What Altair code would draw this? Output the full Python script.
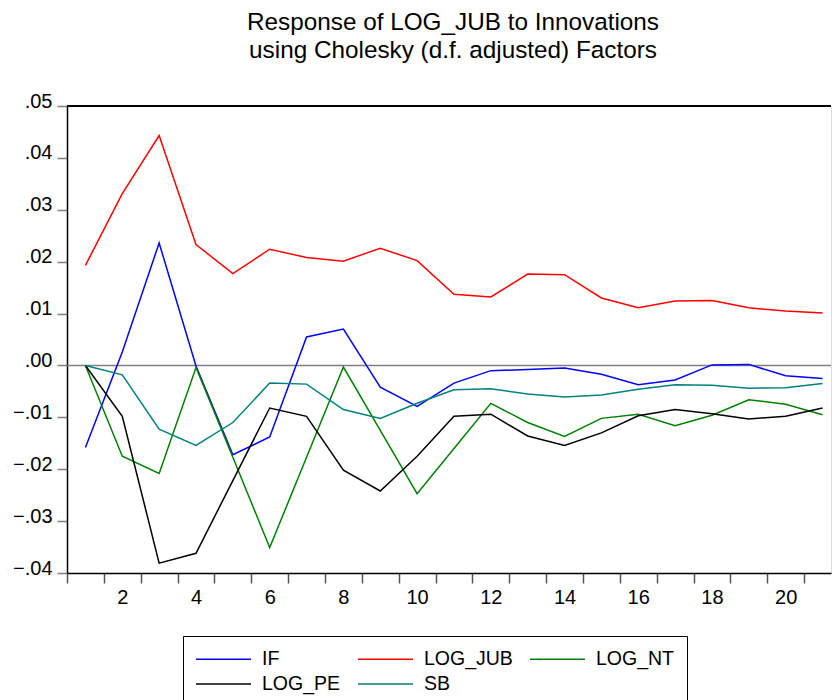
import altair as alt
import pandas as pd

periods = list(range(1, 22))

series_names = ["IF", "LOG_JUB", "LOG_NT", "LOG_PE", "SB"]
series_colors = ["#0000FF", "#FF0000", "#008000", "#000000", "#008080"]

IF = [-0.0158, 0.0026, 0.0236, -0.0001, -0.0172, -0.0138, 0.0055, 0.0070,
      -0.0042, -0.0079, -0.0034, -0.0010, -0.0008, -0.0005, -0.0017, -0.0037,
      -0.0028, 0.0001, 0.0002, -0.0020, -0.0025]
LOG_JUB = [0.0193, 0.0331, 0.0443, 0.0233, 0.0177, 0.0224, 0.0208, 0.0201,
           0.0226, 0.0202, 0.0137, 0.0132, 0.0176, 0.0175, 0.0130, 0.0111,
           0.0124, 0.0125, 0.0111, 0.0105, 0.0101]
LOG_NT = [0.0, -0.0175, -0.0208, -0.0004, -0.0177, -0.0351, -0.0177, -0.0003,
          -0.0125, -0.0247, -0.0160, -0.0073, -0.0110, -0.0137, -0.0102, -0.0094,
          -0.0116, -0.0096, -0.0066, -0.0075, -0.0095]
LOG_PE = [0.0, -0.0098, -0.0381, -0.0362, -0.0222, -0.0082, -0.0098, -0.0202,
          -0.0242, -0.0175, -0.0098, -0.0094, -0.0136, -0.0154, -0.0130, -0.0097,
          -0.0085, -0.0093, -0.0103, -0.0098, -0.0082]
SB = [0.0, -0.0018, -0.0123, -0.0154, -0.0110, -0.0034, -0.0036, -0.0085,
      -0.0102, -0.0073, -0.0047, -0.0045, -0.0055, -0.0061, -0.0057, -0.0046,
      -0.0037, -0.0038, -0.0044, -0.0043, -0.0035]

y_ticks = [-0.04, -0.03, -0.02, -0.01, 0.0, 0.01, 0.02, 0.03, 0.04, 0.05]
x_tick_marks = [p - 0.5 for p in periods]
x_labels = [2, 4, 6, 8, 10, 12, 14, 16, 18, 20]

title_lines = ["Response of LOG_JUB to Innovations",
               "using Cholesky (d.f. adjusted) Factors"]

FONT = "Liberation Sans"

rows = []
for name, vals in zip(series_names, [IF, LOG_JUB, LOG_NT, LOG_PE, SB]):
    for p, v in zip(periods, vals):
        rows.append({"period": p, "value": v, "series": name})
df = pd.DataFrame(rows)

x_scale = alt.Scale(domain=[0.5, 21.23], nice=False, zero=False)
y_scale = alt.Scale(domain=[-0.04, 0.05], nice=False, zero=False)

y_axis = alt.Axis(
    values=y_ticks, title=None, grid=False,
    labelExpr="replace(format(datum.value, '.2f'), '0.', '.')",
    labelFontSize=20, labelFont=FONT, labelColor="black", labelPadding=5,
    labelOffset=-5,
    tickSize=10, tickColor="#808080", tickWidth=1.5,
    domainColor="black", domainWidth=1.5,
)

x_axis = alt.Axis(
    values=sorted(x_tick_marks + x_labels), title=None, grid=False,
    labelExpr="datum.value % 2 == 0 ? datum.value : ''",
    labelOverlap=False, labelBound=False, labelFlush=False,
    labelFontSize=20, labelFont=FONT, labelColor="black", labelPadding=4,
    tickSize=10, tickColor="#555555", tickWidth=1.5,
    tickOpacity={"condition": {"test": "datum.value % 1 == 0", "value": 0}, "value": 1},
    domainColor="black", domainWidth=1.5,
)

zero_df = pd.DataFrame({"value": [0.0]})
top_df = pd.DataFrame({"value": [0.05]})

zero_rule = alt.Chart(zero_df).mark_rule(color="#808080", strokeWidth=1.5).encode(
    y=alt.Y("value:Q", scale=y_scale, axis=y_axis)
)

lines = alt.Chart(df).mark_line(strokeWidth=1.5, clip=True).encode(
    x=alt.X("period:Q", scale=x_scale, axis=x_axis),
    y=alt.Y("value:Q", scale=y_scale, axis=y_axis),
    color=alt.Color(
        "series:N",
        scale=alt.Scale(domain=series_names, range=series_colors),
        legend=alt.Legend(
            title=None, orient="none", legendX=116, legendY=530,
            columns=3, columnPadding=14, rowPadding=4,
            symbolType="M-1,0H4.5", symbolSize=400, symbolStrokeWidth=1.5,
            labelFontSize=19.5, labelFont=FONT, labelColor="black", labelOffset=45,
            strokeColor="black", padding=12, direction="horizontal",
        ),
    ),
    order="period:Q",
)

top_rule = alt.Chart(top_df).mark_rule(color="black", strokeWidth=2).encode(
    y=alt.Y("value:Q", scale=y_scale, axis=y_axis)
)

chart = alt.layer(zero_rule, lines, top_rule).properties(
    width=764, height=467,
    title=alt.TitleParams(
        text=title_lines, fontSize=24.3, font=FONT, fontWeight="normal",
        color="black", anchor="middle", dx=4, offset=28, lineHeight=28,
    ),
    autosize=alt.AutoSizeParams(type="none"),
    padding={"left": 67, "top": 106, "right": 1, "bottom": 127},
).configure_view(stroke=None).configure(background="white")

chart.save("out.html", embed_options={"renderer": "svg", "actions": False})
